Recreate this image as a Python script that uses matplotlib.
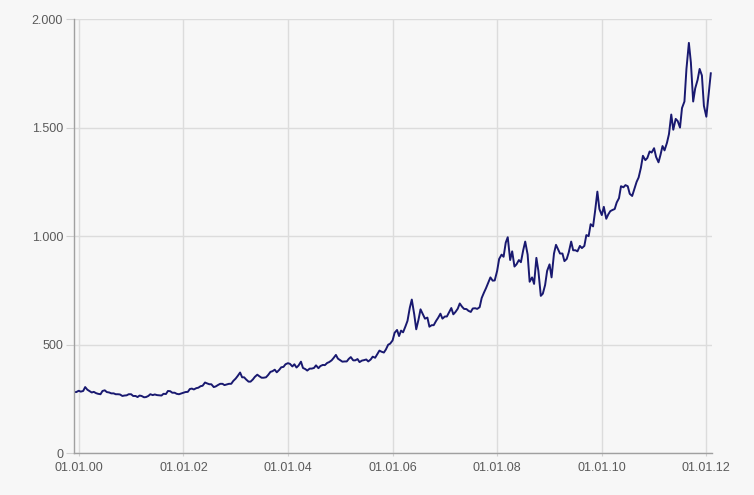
import matplotlib
matplotlib.use("Agg")
import matplotlib.pyplot as plt
import matplotlib.dates as mdates
from matplotlib.ticker import FuncFormatter, FixedLocator
import pandas as pd

# Gold price (USD/oz), semi-monthly readings (1st and 15th), Dec 1999 - Feb 2012
start_date = "1999-12-01"
prices = [
    282, 282,                      # 1999-12
    288, 284, 287, 305, 293, 287, 280, 283, 277, 274, 272, 287,   # 2000 H1
    290, 282, 280, 276, 276, 272, 272, 271, 264, 266, 267, 272,   # 2000 H2
    272, 264, 264, 259, 266, 264, 258, 259, 264, 272, 268, 271,   # 2001 H1
    268, 267, 266, 274, 273, 287, 286, 279, 279, 274, 272, 275,   # 2001 H2
    279, 282, 283, 296, 298, 294, 300, 302, 309, 311, 326, 322,   # 2002 H1
    318, 318, 305, 308, 315, 320, 320, 314, 317, 320, 320, 333,   # 2002 H2
    344, 356, 372, 350, 350, 340, 330, 330, 340, 352, 362, 355,   # 2003 H1
    348, 348, 350, 360, 375, 378, 385, 373, 384, 396, 398, 410,   # 2003 H2
    415, 412, 400, 410, 395, 404, 422, 393, 388, 381, 390, 390,   # 2004 H1
    393, 405, 392, 402, 407, 406, 416, 420, 428, 439, 453, 436,   # 2004 H2
    428, 422, 423, 423, 435, 443, 428, 428, 434, 420, 427, 429,   # 2005 H1
    432, 423, 432, 445, 440, 455, 473, 468, 464, 478, 500, 505,   # 2005 H2
    520, 555, 568, 540, 565, 557, 585, 610, 670, 708, 640, 571,   # 2006 H1
    616, 663, 640, 620, 625, 583, 590, 590, 610, 624, 643, 620,   # 2006 H2
    630, 630, 652, 669, 640, 650, 666, 690, 675, 665, 664, 656,   # 2007 H1
    651, 667, 668, 665, 673, 715, 740, 760, 787, 810, 795, 796,   # 2007 H2
    840, 895, 915, 905, 970, 995, 890, 930, 860, 870, 890, 880,   # 2008 H1
    935, 975, 915, 790, 810, 780, 900, 840, 725, 735, 775, 840,   # 2008 H2
    870, 810, 920, 960, 940, 920, 920, 885, 895, 925, 975, 935,   # 2009 H1
    935, 930, 955, 945, 955, 1005, 1000, 1055, 1045, 1115, 1205, 1125,  # 2009 H2
    1097, 1135, 1080, 1100, 1115, 1120, 1125, 1155, 1175, 1230, 1225, 1235,  # 2010 H1
    1230, 1195, 1185, 1215, 1250, 1270, 1315, 1370, 1350, 1360, 1390, 1385,  # 2010 H2
    1405, 1365, 1340, 1375, 1415, 1395, 1430, 1470, 1560, 1490, 1540, 1530,  # 2011 H1
    1500, 1590, 1620, 1770, 1890, 1800, 1620, 1680, 1720, 1770, 1740, 1600,  # 2011 H2
    1550, 1640,                    # 2012-01
    1750,                          # 2012-02
]

x_ticks = ["2000-01-01", "2002-01-01", "2004-01-01", "2006-01-01",
           "2008-01-01", "2010-01-01", "2012-01-01"]
y_ticks = [0, 500, 1000, 1500, 2000]

dates = pd.date_range(start_date, periods=len(prices), freq="SMS")

bg = "#f7f7f7"
fig = plt.figure(figsize=(7.54, 4.95), dpi=100, facecolor=bg)
ax = fig.add_axes([74 / 754, 1 - 453.3 / 495, (711.5 - 74) / 754, (453.3 - 19) / 495])
ax.set_facecolor(bg)

ax.plot(dates, prices, color="#191970", lw=1.4, solid_joinstyle="round")

ax.set_xlim(pd.Timestamp("1999-11-29"), pd.Timestamp("2012-02-06"))
ax.set_ylim(0, 2000)

ax.xaxis.set_major_locator(FixedLocator(mdates.date2num(pd.to_datetime(x_ticks))))
ax.xaxis.set_major_formatter(mdates.DateFormatter("%d.%m.%y"))
ax.yaxis.set_major_locator(FixedLocator(y_ticks))
ax.yaxis.set_major_formatter(FuncFormatter(lambda v, p: f"{int(v):,}".replace(",", ".")))

ax.grid(True, color="#dcdcdc", lw=1)
ax.set_axisbelow(True)
for s in ["top", "right"]:
    ax.spines[s].set_visible(False)
for s in ["left", "bottom"]:
    ax.spines[s].set_color("#a0a0a0")
    ax.spines[s].set_linewidth(1)

font = "Liberation Sans"
ax.tick_params(axis="y", length=5.8, color="#d0d0d0", pad=2, labelsize=9, labelcolor="#5a5a5a")
ax.tick_params(axis="x", length=2.2, color="#d0d0d0", pad=4, labelsize=9, labelcolor="#5a5a5a")
for lab in ax.get_xticklabels() + ax.get_yticklabels():
    lab.set_fontfamily(font)

fig.savefig("out.png", dpi=100, facecolor=bg)
